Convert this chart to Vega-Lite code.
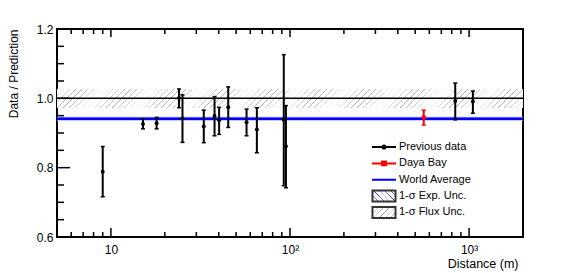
{
  "$schema": "https://vega.github.io/schema/vega-lite/v6.json",
  "width": 466,
  "height": 208,
  "autosize": "none",
  "padding": {"left": 57, "top": 29, "right": 58, "bottom": 36},
  "background": "white",
  "config": {
    "font": "Liberation Sans",
    "view": {"stroke": "black", "strokeWidth": 2},
    "axis": {"grid": false, "domain": false, "ticks": false, "labelFont": "Liberation Sans", "labelFontSize": 12, "labelColor": "black", "titleFont": "Liberation Sans", "titleFontWeight": "normal", "titleColor": "black"}
  },
  "params": [
    {"name": "fluxHatch", "value": {"gradient": "linear", "x1": 0, "y1": 0, "x2": 1.2, "y2": 0.56, "stops": [
      {"offset": 0, "color": "#fff"}, {"offset": 0.017, "color": "#888"}, {"offset": 0.034, "color": "#fff"},
      {"offset": 0.1667, "color": "#fff"}, {"offset": 0.1837, "color": "#888"}, {"offset": 0.2007, "color": "#fff"},
      {"offset": 0.3333, "color": "#fff"}, {"offset": 0.3503, "color": "#888"}, {"offset": 0.3673, "color": "#fff"},
      {"offset": 0.5, "color": "#fff"}, {"offset": 0.517, "color": "#888"}, {"offset": 0.534, "color": "#fff"},
      {"offset": 0.6667, "color": "#fff"}, {"offset": 0.6837, "color": "#888"}, {"offset": 0.7007, "color": "#fff"},
      {"offset": 0.8333, "color": "#fff"}, {"offset": 0.8503, "color": "#888"}, {"offset": 0.8673, "color": "#fff"},
      {"offset": 1, "color": "#fff"}]}},
    {"name": "expHatch", "value": {"gradient": "linear", "x1": 0, "y1": 1, "x2": 1.2, "y2": 0.44, "stops": [
      {"offset": 0, "color": "#fff"}, {"offset": 0.017, "color": "#22f"}, {"offset": 0.034, "color": "#fff"},
      {"offset": 0.1667, "color": "#fff"}, {"offset": 0.1837, "color": "#22f"}, {"offset": 0.2007, "color": "#fff"},
      {"offset": 0.3333, "color": "#fff"}, {"offset": 0.3503, "color": "#22f"}, {"offset": 0.3673, "color": "#fff"},
      {"offset": 0.5, "color": "#fff"}, {"offset": 0.517, "color": "#22f"}, {"offset": 0.534, "color": "#fff"},
      {"offset": 0.6667, "color": "#fff"}, {"offset": 0.6837, "color": "#22f"}, {"offset": 0.7007, "color": "#fff"},
      {"offset": 0.8333, "color": "#fff"}, {"offset": 0.8503, "color": "#22f"}, {"offset": 0.8673, "color": "#fff"},
      {"offset": 1, "color": "#fff"}]}}
  ],
  "datasets": {
    "meas": [
      {"dist": 9.0, "val": 0.788, "lo": 0.716, "hi": 0.861, "series": "Previous data"},
      {"dist": 15.1, "val": 0.926, "lo": 0.912, "hi": 0.940, "series": "Previous data"},
      {"dist": 18.0, "val": 0.928, "lo": 0.912, "hi": 0.945, "series": "Previous data"},
      {"dist": 24.0, "val": 1.001, "lo": 0.973, "hi": 1.027, "series": "Previous data"},
      {"dist": 25.1, "val": 0.942, "lo": 0.873, "hi": 1.010, "series": "Previous data"},
      {"dist": 33.0, "val": 0.919, "lo": 0.872, "hi": 0.966, "series": "Previous data"},
      {"dist": 37.9, "val": 0.949, "lo": 0.892, "hi": 1.005, "series": "Previous data"},
      {"dist": 40.2, "val": 0.937, "lo": 0.896, "hi": 0.974, "series": "Previous data"},
      {"dist": 45.2, "val": 0.974, "lo": 0.916, "hi": 1.033, "series": "Previous data"},
      {"dist": 57.2, "val": 0.931, "lo": 0.892, "hi": 0.969, "series": "Previous data"},
      {"dist": 65.3, "val": 0.910, "lo": 0.843, "hi": 0.973, "series": "Previous data"},
      {"dist": 92.3, "val": 0.938, "lo": 0.748, "hi": 1.126, "series": "Previous data"},
      {"dist": 94.9, "val": 0.862, "lo": 0.742, "hi": 0.979, "series": "Previous data"},
      {"dist": 837, "val": 0.992, "lo": 0.938, "hi": 1.044, "series": "Previous data"},
      {"dist": 1050, "val": 0.991, "lo": 0.957, "hi": 1.021, "series": "Previous data"},
      {"dist": 558, "val": 0.945, "lo": 0.923, "hi": 0.966, "series": "Daya Bay"}
    ],
    "refs": [
      {"name": "flux", "center": 1.0, "lo": 0.972, "hi": 1.027},
      {"name": "exp", "center": 0.941, "lo": 0.935, "hi": 0.947}
    ],
    "bandLegend": [
      {"item": "1-σ Exp. Unc."},
      {"item": "1-σ Flux Unc."}
    ],
    "ticksX": [
      {"v": 6, "kind": "minor"}, {"v": 7, "kind": "minor"}, {"v": 8, "kind": "minor"}, {"v": 9, "kind": "minor"},
      {"v": 10, "kind": "major"},
      {"v": 20, "kind": "minor"}, {"v": 30, "kind": "minor"}, {"v": 40, "kind": "minor"}, {"v": 50, "kind": "minor"},
      {"v": 60, "kind": "minor"}, {"v": 70, "kind": "minor"}, {"v": 80, "kind": "minor"}, {"v": 90, "kind": "minor"},
      {"v": 100, "kind": "major"},
      {"v": 200, "kind": "minor"}, {"v": 300, "kind": "minor"}, {"v": 400, "kind": "minor"}, {"v": 500, "kind": "minor"},
      {"v": 600, "kind": "minor"}, {"v": 700, "kind": "minor"}, {"v": 800, "kind": "minor"}, {"v": 900, "kind": "minor"},
      {"v": 1000, "kind": "major"}
    ],
    "ticksY": [
      {"v": 0.65, "kind": "minor"}, {"v": 0.7, "kind": "minor"}, {"v": 0.75, "kind": "minor"},
      {"v": 0.8, "kind": "major"},
      {"v": 0.85, "kind": "minor"}, {"v": 0.9, "kind": "minor"}, {"v": 0.95, "kind": "minor"},
      {"v": 1.0, "kind": "major"},
      {"v": 1.05, "kind": "minor"}, {"v": 1.1, "kind": "minor"}, {"v": 1.15, "kind": "minor"}
    ]
  },
  "layer": [
    {
      "data": {"name": "refs"},
      "transform": [{"filter": "datum.name == 'flux'"}],
      "mark": {"type": "rect", "fill": {"gradient": "linear", "x1": 0, "y1": 0, "x2": 1.05, "y2": 0.043, "stops": [
        {"offset":0,"color":"#fff"},{"offset":0.0011,"color":"#aaa"},{"offset":0.0022,"color":"#fff"},
        {"offset":0.0125,"color":"#fff"},{"offset":0.0136,"color":"#aaa"},{"offset":0.0147,"color":"#fff"},
        {"offset":0.025,"color":"#fff"},{"offset":0.0261,"color":"#aaa"},{"offset":0.0272,"color":"#fff"},
        {"offset":0.0375,"color":"#fff"},{"offset":0.0386,"color":"#aaa"},{"offset":0.0397,"color":"#fff"},
        {"offset":0.05,"color":"#fff"},{"offset":0.0511,"color":"#aaa"},{"offset":0.0522,"color":"#fff"},
        {"offset":0.0625,"color":"#fff"},{"offset":0.0636,"color":"#aaa"},{"offset":0.0647,"color":"#fff"},
        {"offset":0.075,"color":"#fff"},{"offset":0.0761,"color":"#aaa"},{"offset":0.0772,"color":"#fff"},
        {"offset":0.0875,"color":"#fff"},{"offset":0.0886,"color":"#aaa"},{"offset":0.0897,"color":"#fff"},
        {"offset":0.1,"color":"#fff"},{"offset":0.1011,"color":"#aaa"},{"offset":0.1022,"color":"#fff"},
        {"offset":0.1125,"color":"#fff"},{"offset":0.1136,"color":"#aaa"},{"offset":0.1147,"color":"#fff"},
        {"offset":0.125,"color":"#fff"},{"offset":0.1261,"color":"#aaa"},{"offset":0.1272,"color":"#fff"},
        {"offset":0.1375,"color":"#fff"},{"offset":0.1386,"color":"#aaa"},{"offset":0.1397,"color":"#fff"},
        {"offset":0.15,"color":"#fff"},{"offset":0.1511,"color":"#aaa"},{"offset":0.1522,"color":"#fff"},
        {"offset":0.1625,"color":"#fff"},{"offset":0.1636,"color":"#aaa"},{"offset":0.1647,"color":"#fff"},
        {"offset":0.175,"color":"#fff"},{"offset":0.1761,"color":"#aaa"},{"offset":0.1772,"color":"#fff"},
        {"offset":0.1875,"color":"#fff"},{"offset":0.1886,"color":"#aaa"},{"offset":0.1897,"color":"#fff"},
        {"offset":0.2,"color":"#fff"},{"offset":0.2011,"color":"#aaa"},{"offset":0.2022,"color":"#fff"},
        {"offset":0.2125,"color":"#fff"},{"offset":0.2136,"color":"#aaa"},{"offset":0.2147,"color":"#fff"},
        {"offset":0.225,"color":"#fff"},{"offset":0.2261,"color":"#aaa"},{"offset":0.2272,"color":"#fff"},
        {"offset":0.2375,"color":"#fff"},{"offset":0.2386,"color":"#aaa"},{"offset":0.2397,"color":"#fff"},
        {"offset":0.25,"color":"#fff"},{"offset":0.2511,"color":"#aaa"},{"offset":0.2522,"color":"#fff"},
        {"offset":0.2625,"color":"#fff"},{"offset":0.2636,"color":"#aaa"},{"offset":0.2647,"color":"#fff"},
        {"offset":0.275,"color":"#fff"},{"offset":0.2761,"color":"#aaa"},{"offset":0.2772,"color":"#fff"},
        {"offset":0.2875,"color":"#fff"},{"offset":0.2886,"color":"#aaa"},{"offset":0.2897,"color":"#fff"},
        {"offset":0.3,"color":"#fff"},{"offset":0.3011,"color":"#aaa"},{"offset":0.3022,"color":"#fff"},
        {"offset":0.3125,"color":"#fff"},{"offset":0.3136,"color":"#aaa"},{"offset":0.3147,"color":"#fff"},
        {"offset":0.325,"color":"#fff"},{"offset":0.3261,"color":"#aaa"},{"offset":0.3272,"color":"#fff"},
        {"offset":0.3375,"color":"#fff"},{"offset":0.3386,"color":"#aaa"},{"offset":0.3397,"color":"#fff"},
        {"offset":0.35,"color":"#fff"},{"offset":0.3511,"color":"#aaa"},{"offset":0.3522,"color":"#fff"},
        {"offset":0.3625,"color":"#fff"},{"offset":0.3636,"color":"#aaa"},{"offset":0.3647,"color":"#fff"},
        {"offset":0.375,"color":"#fff"},{"offset":0.3761,"color":"#aaa"},{"offset":0.3772,"color":"#fff"},
        {"offset":0.3875,"color":"#fff"},{"offset":0.3886,"color":"#aaa"},{"offset":0.3897,"color":"#fff"},
        {"offset":0.4,"color":"#fff"},{"offset":0.4011,"color":"#aaa"},{"offset":0.4022,"color":"#fff"},
        {"offset":0.4125,"color":"#fff"},{"offset":0.4136,"color":"#aaa"},{"offset":0.4147,"color":"#fff"},
        {"offset":0.425,"color":"#fff"},{"offset":0.4261,"color":"#aaa"},{"offset":0.4272,"color":"#fff"},
        {"offset":0.4375,"color":"#fff"},{"offset":0.4386,"color":"#aaa"},{"offset":0.4397,"color":"#fff"},
        {"offset":0.45,"color":"#fff"},{"offset":0.4511,"color":"#aaa"},{"offset":0.4522,"color":"#fff"},
        {"offset":0.4625,"color":"#fff"},{"offset":0.4636,"color":"#aaa"},{"offset":0.4647,"color":"#fff"},
        {"offset":0.475,"color":"#fff"},{"offset":0.4761,"color":"#aaa"},{"offset":0.4772,"color":"#fff"},
        {"offset":0.4875,"color":"#fff"},{"offset":0.4886,"color":"#aaa"},{"offset":0.4897,"color":"#fff"},
        {"offset":0.5,"color":"#fff"},{"offset":0.5011,"color":"#aaa"},{"offset":0.5022,"color":"#fff"},
        {"offset":0.5125,"color":"#fff"},{"offset":0.5136,"color":"#aaa"},{"offset":0.5147,"color":"#fff"},
        {"offset":0.525,"color":"#fff"},{"offset":0.5261,"color":"#aaa"},{"offset":0.5272,"color":"#fff"},
        {"offset":0.5375,"color":"#fff"},{"offset":0.5386,"color":"#aaa"},{"offset":0.5397,"color":"#fff"},
        {"offset":0.55,"color":"#fff"},{"offset":0.5511,"color":"#aaa"},{"offset":0.5522,"color":"#fff"},
        {"offset":0.5625,"color":"#fff"},{"offset":0.5636,"color":"#aaa"},{"offset":0.5647,"color":"#fff"},
        {"offset":0.575,"color":"#fff"},{"offset":0.5761,"color":"#aaa"},{"offset":0.5772,"color":"#fff"},
        {"offset":0.5875,"color":"#fff"},{"offset":0.5886,"color":"#aaa"},{"offset":0.5897,"color":"#fff"},
        {"offset":0.6,"color":"#fff"},{"offset":0.6011,"color":"#aaa"},{"offset":0.6022,"color":"#fff"},
        {"offset":0.6125,"color":"#fff"},{"offset":0.6136,"color":"#aaa"},{"offset":0.6147,"color":"#fff"},
        {"offset":0.625,"color":"#fff"},{"offset":0.6261,"color":"#aaa"},{"offset":0.6272,"color":"#fff"},
        {"offset":0.6375,"color":"#fff"},{"offset":0.6386,"color":"#aaa"},{"offset":0.6397,"color":"#fff"},
        {"offset":0.65,"color":"#fff"},{"offset":0.6511,"color":"#aaa"},{"offset":0.6522,"color":"#fff"},
        {"offset":0.6625,"color":"#fff"},{"offset":0.6636,"color":"#aaa"},{"offset":0.6647,"color":"#fff"},
        {"offset":0.675,"color":"#fff"},{"offset":0.6761,"color":"#aaa"},{"offset":0.6772,"color":"#fff"},
        {"offset":0.6875,"color":"#fff"},{"offset":0.6886,"color":"#aaa"},{"offset":0.6897,"color":"#fff"},
        {"offset":0.7,"color":"#fff"},{"offset":0.7011,"color":"#aaa"},{"offset":0.7022,"color":"#fff"},
        {"offset":0.7125,"color":"#fff"},{"offset":0.7136,"color":"#aaa"},{"offset":0.7147,"color":"#fff"},
        {"offset":0.725,"color":"#fff"},{"offset":0.7261,"color":"#aaa"},{"offset":0.7272,"color":"#fff"},
        {"offset":0.7375,"color":"#fff"},{"offset":0.7386,"color":"#aaa"},{"offset":0.7397,"color":"#fff"},
        {"offset":0.75,"color":"#fff"},{"offset":0.7511,"color":"#aaa"},{"offset":0.7522,"color":"#fff"},
        {"offset":0.7625,"color":"#fff"},{"offset":0.7636,"color":"#aaa"},{"offset":0.7647,"color":"#fff"},
        {"offset":0.775,"color":"#fff"},{"offset":0.7761,"color":"#aaa"},{"offset":0.7772,"color":"#fff"},
        {"offset":0.7875,"color":"#fff"},{"offset":0.7886,"color":"#aaa"},{"offset":0.7897,"color":"#fff"},
        {"offset":0.8,"color":"#fff"},{"offset":0.8011,"color":"#aaa"},{"offset":0.8022,"color":"#fff"},
        {"offset":0.8125,"color":"#fff"},{"offset":0.8136,"color":"#aaa"},{"offset":0.8147,"color":"#fff"},
        {"offset":0.825,"color":"#fff"},{"offset":0.8261,"color":"#aaa"},{"offset":0.8272,"color":"#fff"},
        {"offset":0.8375,"color":"#fff"},{"offset":0.8386,"color":"#aaa"},{"offset":0.8397,"color":"#fff"},
        {"offset":0.85,"color":"#fff"},{"offset":0.8511,"color":"#aaa"},{"offset":0.8522,"color":"#fff"},
        {"offset":0.8625,"color":"#fff"},{"offset":0.8636,"color":"#aaa"},{"offset":0.8647,"color":"#fff"},
        {"offset":0.875,"color":"#fff"},{"offset":0.8761,"color":"#aaa"},{"offset":0.8772,"color":"#fff"},
        {"offset":0.8875,"color":"#fff"},{"offset":0.8886,"color":"#aaa"},{"offset":0.8897,"color":"#fff"},
        {"offset":0.9,"color":"#fff"},{"offset":0.9011,"color":"#aaa"},{"offset":0.9022,"color":"#fff"},
        {"offset":0.9125,"color":"#fff"},{"offset":0.9136,"color":"#aaa"},{"offset":0.9147,"color":"#fff"},
        {"offset":0.925,"color":"#fff"},{"offset":0.9261,"color":"#aaa"},{"offset":0.9272,"color":"#fff"},
        {"offset":0.9375,"color":"#fff"},{"offset":0.9386,"color":"#aaa"},{"offset":0.9397,"color":"#fff"},
        {"offset":0.95,"color":"#fff"},{"offset":0.9511,"color":"#aaa"},{"offset":0.9522,"color":"#fff"},
        {"offset":0.9625,"color":"#fff"},{"offset":0.9636,"color":"#aaa"},{"offset":0.9647,"color":"#fff"},
        {"offset":0.975,"color":"#fff"},{"offset":0.9761,"color":"#aaa"},{"offset":0.9772,"color":"#fff"},
        {"offset":0.9875,"color":"#fff"},{"offset":0.9886,"color":"#aaa"},{"offset":0.9897,"color":"#fff"},
        {"offset":1,"color":"#fff"}]}},
      "encoding": {
        "y": {"field": "lo", "type": "quantitative", "scale": {"domain": [0.6, 1.2], "nice": false, "zero": false},
          "axis": {"orient": "left", "title": "Data / Prediction", "titleFontSize": 12, "titleAngle": 270, "titleAlign": "right", "titleBaseline": "middle", "titleX": -44, "titleY": 0, "titleAnchor": null,
            "values": [0.6, 0.8, 1.0, 1.2], "ticks": false, "tickSize": 0, "labelPadding": 4, "labelOverlap": false, "labelFlush": false, "labelBound": false,
            "format": ".1f"}},
        "y2": {"field": "hi"}
      }
    },
    {
      "data": {"name": "refs"},
      "transform": [{"filter": "datum.name == 'exp'"}],
      "mark": {"type": "rect", "fill": "#b4b8f4"},
      "encoding": {
        "y": {"field": "lo", "type": "quantitative", "scale": {"domain": [0.6, 1.2], "nice": false, "zero": false}, "axis": null},
        "y2": {"field": "hi"}
      }
    },
    {
      "data": {"name": "refs"},
      "transform": [{"filter": "datum.name == 'flux'"}],
      "mark": {"type": "rule", "color": "black", "strokeWidth": 1.5},
      "encoding": {"y": {"field": "center", "type": "quantitative", "scale": {"domain": [0.6, 1.2], "nice": false, "zero": false}, "axis": null}}
    },
    {
      "data": {"name": "refs"},
      "transform": [{"filter": "datum.name == 'exp'"}],
      "mark": {"type": "rule", "color": "#0000ff", "strokeWidth": 2.5},
      "encoding": {"y": {"field": "center", "type": "quantitative", "scale": {"domain": [0.6, 1.2], "nice": false, "zero": false}, "axis": null}}
    },
    {
      "data": {"name": "ticksX"},
      "transform": [{"filter": "datum.kind == 'minor'"}],
      "mark": {"type": "tick", "orient": "vertical", "size": 5, "thickness": 1.5, "color": "#000000", "opacity": 1, "yOffset": -2.5},
      "encoding": {
        "x": {"field": "v", "type": "quantitative", "scale": {"type": "log", "domain": [5, 2000], "nice": false}, "axis": null},
        "y": {"datum": 0.6, "type": "quantitative", "scale": {"domain": [0.6, 1.2], "nice": false, "zero": false}, "axis": null}
      }
    },
    {
      "data": {"name": "ticksX"},
      "transform": [{"filter": "datum.kind == 'major'"}],
      "mark": {"type": "tick", "orient": "vertical", "size": 9, "thickness": 1.5, "color": "#000000", "opacity": 1, "yOffset": -4.5},
      "encoding": {
        "x": {"field": "v", "type": "quantitative", "scale": {"type": "log", "domain": [5, 2000], "nice": false}, "axis": null},
        "y": {"datum": 0.6, "type": "quantitative", "scale": {"domain": [0.6, 1.2], "nice": false, "zero": false}, "axis": null}
      }
    },
    {
      "data": {"name": "ticksX"},
      "transform": [{"filter": "datum.kind == 'minor'"}],
      "mark": {"type": "tick", "orient": "vertical", "size": 5, "thickness": 1.5, "color": "#000000", "opacity": 1, "yOffset": 2.5},
      "encoding": {
        "x": {"field": "v", "type": "quantitative", "scale": {"type": "log", "domain": [5, 2000], "nice": false}, "axis": null},
        "y": {"datum": 1.2, "type": "quantitative", "scale": {"domain": [0.6, 1.2], "nice": false, "zero": false}, "axis": null}
      }
    },
    {
      "data": {"name": "ticksX"},
      "transform": [{"filter": "datum.kind == 'major'"}],
      "mark": {"type": "tick", "orient": "vertical", "size": 8, "thickness": 1.5, "color": "#000000", "opacity": 1, "yOffset": 4},
      "encoding": {
        "x": {"field": "v", "type": "quantitative", "scale": {"type": "log", "domain": [5, 2000], "nice": false}, "axis": null},
        "y": {"datum": 1.2, "type": "quantitative", "scale": {"domain": [0.6, 1.2], "nice": false, "zero": false}, "axis": null}
      }
    },
    {
      "data": {"name": "ticksY"},
      "transform": [{"filter": "datum.kind == 'minor'"}],
      "mark": {"type": "tick", "orient": "horizontal", "size": 7, "thickness": 1.5, "color": "#000000", "opacity": 1, "xOffset": 3.5},
      "encoding": {
        "x": {"datum": 5, "type": "quantitative", "scale": {"type": "log", "domain": [5, 2000], "nice": false}, "axis": null},
        "y": {"field": "v", "type": "quantitative", "scale": {"domain": [0.6, 1.2], "nice": false, "zero": false}, "axis": null}
      }
    },
    {
      "data": {"name": "ticksY"},
      "transform": [{"filter": "datum.kind == 'major'"}],
      "mark": {"type": "tick", "orient": "horizontal", "size": 13, "thickness": 1.5, "color": "#000000", "opacity": 1, "xOffset": 6.5},
      "encoding": {
        "x": {"datum": 5, "type": "quantitative", "scale": {"type": "log", "domain": [5, 2000], "nice": false}, "axis": null},
        "y": {"field": "v", "type": "quantitative", "scale": {"domain": [0.6, 1.2], "nice": false, "zero": false}, "axis": null}
      }
    },
    {
      "data": {"name": "bandLegend"},
      "mark": {"type": "text", "text": "", "stroke": "#333333", "strokeWidth": 2},
      "encoding": {
        "fill": {"field": "item", "type": "nominal",
          "scale": {"domain": ["1-σ Exp. Unc.", "1-σ Flux Unc."], "range": [{"expr": "expHatch"}, {"expr": "fluxHatch"}]},
          "legend": {"orient": "none", "legendX": 314, "legendY": 159, "title": null, "padding": 0, "symbolSize": 576, "clipHeight": 16, "rowPadding": 0.4, "labelOffset": 2, "labelFontSize": 11, "labelFont": "Liberation Sans", "labelColor": "black", "labelLimit": 200, "symbolStrokeColor": "#333333", "symbolStrokeWidth": 2,
            "encode": {"symbols": {"update": {"shape": {"value": "M-0.96,-0.46H0.96V0.46H-0.96Z"}}}}}
        }
      }
    },
    {
      "data": {"name": "meas"},
      "mark": {"type": "rule", "strokeWidth": 2},
      "encoding": {
        "x": {"field": "dist", "type": "quantitative", "scale": {"type": "log", "domain": [5, 2000], "nice": false},
          "axis": {"orient": "bottom", "values": [10, 100, 1000], "ticks": false, "tickSize": 0, "labelPadding": 7, "labelOverlap": false, "labelFlush": false, "labelBound": false,
            "labelExpr": "datum.value == 10 ? '10' : datum.value == 100 ? '10²' : '10³'",
            "title": "Distance (m)", "titleFontSize": 12.5, "titleX": 461, "titleY": 30, "titleAlign": "right", "titleBaseline": "alphabetic", "titleAnchor": null}},
        "y": {"field": "lo", "type": "quantitative", "scale": {"domain": [0.6, 1.2], "nice": false, "zero": false}, "axis": null},
        "y2": {"field": "hi"},
        "color": {"field": "series", "type": "nominal",
          "scale": {"domain": ["Previous data", "Daya Bay", "World Average"], "range": ["#000000", "#ff0000", "#0000ff"]},
          "legend": {"orient": "none", "legendX": 314, "legendY": 110, "title": null, "padding": 0, "symbolSize": 576, "clipHeight": 16, "rowPadding": 0.4, "labelOffset": 2, "labelFontSize": 11, "labelFont": "Liberation Sans", "labelColor": "black", "labelLimit": 200,
            "encode": {"symbols": {"update": {
              "shape": {"signal": "datum.value == 'Previous data' ? 'M-1,0H1M-0.13,0A0.13,0.13,0,1,1,0.13,0A0.13,0.13,0,1,1,-0.13,0Z' : datum.value == 'Daya Bay' ? 'M-1,0H1M-0.16,-0.16H0.16V0.16H-0.16Z' : 'M-1,0H1'"},
              "strokeWidth": {"value": 2}
            }}}}
        }
      }
    },
    {
      "data": {"name": "meas"},
      "mark": {"type": "tick", "orient": "horizontal", "size": 4, "thickness": 1.5, "opacity": 1},
      "encoding": {
        "x": {"field": "dist", "type": "quantitative", "scale": {"type": "log", "domain": [5, 2000], "nice": false}, "axis": null},
        "y": {"field": "lo", "type": "quantitative", "scale": {"domain": [0.6, 1.2], "nice": false, "zero": false}, "axis": null},
        "color": {"field": "series", "type": "nominal"}
      }
    },
    {
      "data": {"name": "meas"},
      "mark": {"type": "tick", "orient": "horizontal", "size": 4, "thickness": 1.5, "opacity": 1},
      "encoding": {
        "x": {"field": "dist", "type": "quantitative", "scale": {"type": "log", "domain": [5, 2000], "nice": false}, "axis": null},
        "y": {"field": "hi", "type": "quantitative", "scale": {"domain": [0.6, 1.2], "nice": false, "zero": false}, "axis": null},
        "color": {"field": "series", "type": "nominal"}
      }
    },
    {
      "data": {"name": "meas"},
      "mark": {"type": "point", "filled": true, "opacity": 1, "size": 16},
      "encoding": {
        "x": {"field": "dist", "type": "quantitative", "scale": {"type": "log", "domain": [5, 2000], "nice": false}, "axis": null},
        "y": {"field": "val", "type": "quantitative", "scale": {"domain": [0.6, 1.2], "nice": false, "zero": false}, "axis": null},
        "color": {"field": "series", "type": "nominal"},
        "shape": {"field": "series", "type": "nominal", "scale": {"domain": ["Previous data", "Daya Bay"], "range": ["circle", "square"]}, "legend": null}
      }
    }
  ],
  "resolve": {"scale": {"x": "independent", "y": "independent"}, "axis": {"x": "independent", "y": "independent"}}
}
